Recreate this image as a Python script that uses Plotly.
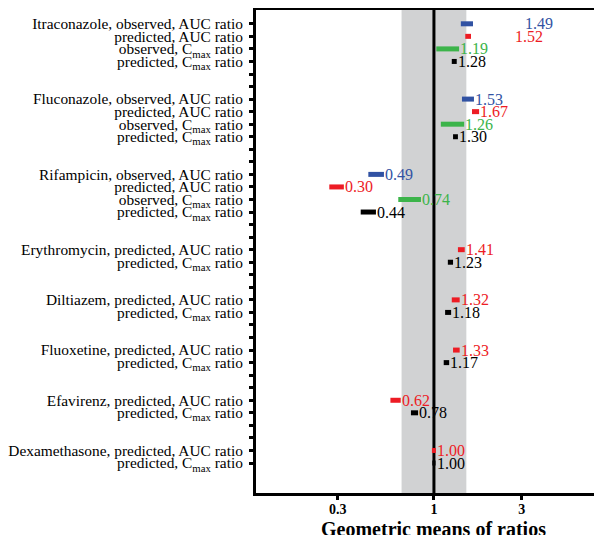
import math
import plotly.graph_objects as go

# rows, top to bottom ("" = spacer row)
row_labels = [
    "Itraconazole, observed, AUC ratio", "predicted, AUC ratio",
    "observed, C<sub>max</sub> ratio", "predicted, C<sub>max</sub> ratio", "", "",
    "Fluconazole, observed, AUC ratio", "predicted, AUC ratio",
    "observed, C<sub>max</sub> ratio", "predicted, C<sub>max</sub> ratio", "", "",
    "Rifampicin, observed, AUC ratio", "predicted, AUC ratio",
    "observed, C<sub>max</sub> ratio", "predicted, C<sub>max</sub> ratio", "", "",
    "Erythromycin, predicted, AUC ratio", "predicted, C<sub>max</sub> ratio", "", "",
    "Diltiazem, predicted, AUC ratio", "predicted, C<sub>max</sub> ratio", "", "",
    "Fluoxetine, predicted, AUC ratio", "predicted, C<sub>max</sub> ratio", "", "",
    "Efavirenz, predicted, AUC ratio", "predicted, C<sub>max</sub> ratio", "", "",
    "Dexamethasone, predicted, AUC ratio", "predicted, C<sub>max</sub> ratio",
]

# estimates: row index, geometric mean, lower, upper, series
est_row = [1, 2, 3, 4, 7, 8, 9, 10, 13, 14, 15, 16, 19, 20, 23, 24, 27, 28, 31, 32, 35, 36]
est_gm = [1.49, 1.52, 1.19, 1.28, 1.53, 1.67, 1.26, 1.30, 0.49, 0.30, 0.74, 0.44,
          1.41, 1.23, 1.32, 1.18, 1.33, 1.17, 0.62, 0.78, 1.00, 1.00]
est_lo = [1.40, 1.48, 1.03, 1.25, 1.42, 1.61, 1.09, 1.27, 0.44, 0.27, 0.64, 0.40,
          1.35, 1.19, 1.25, 1.15, 1.27, 1.13, 0.58, 0.75, 0.975, 0.98]
est_hi = [1.63, 1.59, 1.37, 1.33, 1.65, 1.76, 1.46, 1.35, 0.535, 0.324, 0.85, 0.484,
          1.47, 1.27, 1.38, 1.24, 1.38, 1.21, 0.66, 0.82, 1.025, 1.02]
est_kind = ["obs_auc", "pred_auc", "obs_cmax", "pred_cmax"] * 3 + ["pred_auc", "pred_cmax"] * 5

colors = {"obs_auc": "#3152a3", "pred_auc": "#ed1c24", "obs_cmax": "#3cb44a", "pred_cmax": "#000000"}
# label pushed to the right for the two crowded Itraconazole rows
label_shift = {0: 51, 1: 43}

serif = "Liberation Serif"
fig = go.Figure()

fig.add_vrect(x0=0.667, x1=1.5, fillcolor="#d1d2d3", line_width=0, layer="below")
fig.add_vline(x=1, line_color="black", line_width=3, layer="below")

for kind, col in colors.items():
    xs, ys = [], []
    for i, k in enumerate(est_kind):
        if k == kind:
            xs += [est_lo[i], est_hi[i], None]
            ys += [est_row[i], est_row[i], None]
    fig.add_trace(go.Scatter(x=xs, y=ys, mode="lines", line=dict(color=col, width=5),
                             showlegend=False, hoverinfo="skip"))

for i in range(len(est_row)):
    fig.add_annotation(x=math.log10(est_hi[i]), y=est_row[i], xref="x", yref="y",
                       text=f"{est_gm[i]:.2f}", showarrow=False, xanchor="left",
                       xshift=label_shift.get(i, 0), borderpad=0,
                       font=dict(family=serif, size=16, color=colors[est_kind[i]]))

# axis title as an annotation so it sits right under the tick labels
fig.add_annotation(x=0, y=-0.047, xref="x", yref="paper", yanchor="top",
                   text="<b>Geometric means of ratios</b>", showarrow=False,
                   font=dict(family=serif, size=20, color="black"))

fig.update_xaxes(
    type="log", range=[-0.967, 0.897], automargin=False,
    tickvals=[0.3, 1, 3], ticktext=["0.3", "1", "3"],
    tickfont=dict(family=serif, size=14, color="black", weight="bold"),
    ticks="outside", ticklen=4, tickwidth=3, tickcolor="black", ticklabelstandoff=-3,
    showline=True, linewidth=3, linecolor="black", mirror=True,
    showgrid=False, zeroline=False,
)
fig.update_yaxes(
    range=[38.39, -0.1], automargin=False,
    tickvals=list(range(1, len(row_labels) + 1)), ticktext=row_labels,
    tickfont=dict(family=serif, size=15.4, color="black"),
    ticks="outside", ticklen=4, tickwidth=3, tickcolor="black", ticklabelstandoff=3,
    showline=True, linewidth=3, linecolor="black", mirror=True,
    showgrid=False, zeroline=False,
)
fig.update_layout(
    width=594, height=527,
    margin=dict(l=248, r=3, t=2, b=42),
    plot_bgcolor="white", paper_bgcolor="white",
    showlegend=False,
)

fig.write_html("out.html")
